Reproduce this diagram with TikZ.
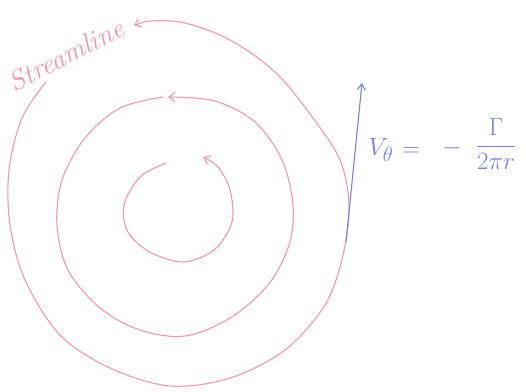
\documentclass[tikz,border=0pt]{standalone}
\usetikzlibrary{arrows.meta}
\definecolor{streamcol}{RGB}{245,150,175}
\definecolor{velcol}{RGB}{120,130,225}
\begin{document}
\begin{tikzpicture}[x=1pt,y=-1pt,
  stream/.style={draw=streamcol,line width=1.1pt,-{Straight Barb[length=6pt,width=9pt]}},
  velarrow/.style={draw=velcol,line width=1.1pt,-{Straight Barb[length=6pt,width=8pt]}},
  eqtext/.style={text=velcol,inner sep=0pt,font=\fontsize{29}{32}\selectfont},
  labeltext/.style={text=streamcol,inner sep=0pt,font=\fontsize{28}{30}\selectfont\itshape}]
\useasboundingbox (0,0) rectangle (526,391);
% outer streamline
\draw[stream] plot[smooth,tension=0.55] coordinates {(46,82) (22,118) (9,170) (10,225) (25,280) (60,335) (110,368) (170,386) (230,378) (285,350) (325,305) (343,255) (349,205) (340,160) (313,118) (275,72) (230,40) (185,23) (150,21) (134,26)};
% middle streamline
\draw[stream] plot[smooth,tension=0.55] coordinates {(163,97) (120,108) (85,138) (62,180) (57,225) (68,270) (100,308) (140,330) (185,336) (230,318) (268,285) (289,245) (293,205) (282,160) (255,122) (215,101) (168,97)};
% inner streamline
\draw[stream] plot[smooth,tension=0.55] coordinates {(166,163) (140,177) (124,205) (128,232) (150,252) (183,262) (214,250) (232,222) (230,190) (218,167) (203,157)};
% label
\node[labeltext,rotate=27] (lab) at (66,55) {Streamline};
% velocity arrow
\coordinate (vs) at (346,242);
\coordinate (ve) at (362,83);
\draw[velarrow] (vs) -- (ve);
% equation
\node[eqtext] (v) at (381,150) {$V_{\theta}$};
\node[eqtext] (eq) at (411,152) {$=$};
\node[eqtext] (minus) at (452,148) {$-$};
\node[eqtext] (frac) at (496,144) {$\displaystyle\frac{\;\Gamma\;}{2\pi r}$};
\end{tikzpicture}
\end{document}
